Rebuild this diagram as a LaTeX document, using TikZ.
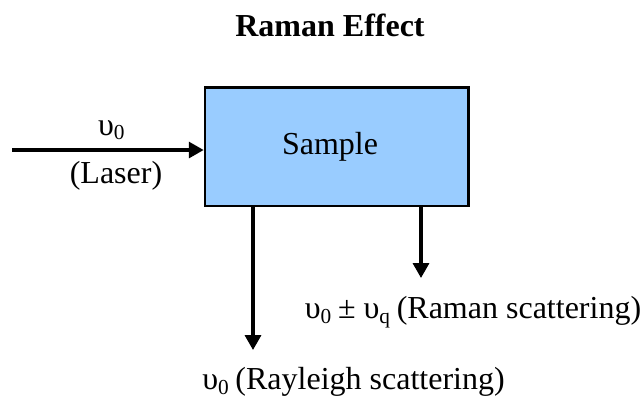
\documentclass[tikz,border=0pt]{standalone}
\usepackage{fontspec}
\setmainfont{Liberation Serif}
\usetikzlibrary{positioning}
\usetikzlibrary{arrows.meta,calc}
\definecolor{sampleblue}{HTML}{99CCFF}
\tikzstyle{samplebox}=[rectangle,draw=black,fill=sampleblue,line width=1pt,minimum width=98.8pt,minimum height=44.4pt,inner sep=0pt]
\tikzstyle{edge} = [draw,line width=1.2pt,-{Triangle[length=5.6pt,width=6pt]}]
\tikzstyle{txt} = [inner sep=0pt,font=\rmfamily\fontsize{12}{14}\selectfont]
\newcommand{\nuzero}{υ\textsubscript{0}}

\begin{document}
\begin{tikzpicture}[x=0.375pt,y=-0.375pt]
  \useasboundingbox (0,0) rectangle (642,396);

  \node[txt,font=\rmfamily\fontsize{12}{14}\selectfont\bfseries] (title) at (330,25) {Raman Effect};
  \node[samplebox] (sample) at (336.75,146.75) {};
  \node[txt] (sampletxt) at (330,147) {Sample};

  % incoming laser
  \coordinate (laser) at (12,150);
  \draw[edge] (laser) -- (sample.west |- laser);
  \node[txt] (nuin) at (112,130) {\nuzero};
  \node[txt] (laserlbl) at (116,176) {(Laser)};

  % scattered light
  \coordinate (rayleigh) at (253,350);
  \coordinate (raman) at (421,278);
  \draw[edge] (sample.south -| rayleigh) -- (rayleigh);
  \draw[edge] (sample.south -| raman) -- (raman);
  \node[txt] (rayleighlbl) at (353.5,382) {\nuzero\,(Rayleigh scattering)};
  \node[txt] (ramanlbl) at (473,312) {\nuzero\,± υ\textsubscript{q}\,(Raman scattering)};
\end{tikzpicture}
\end{document}
